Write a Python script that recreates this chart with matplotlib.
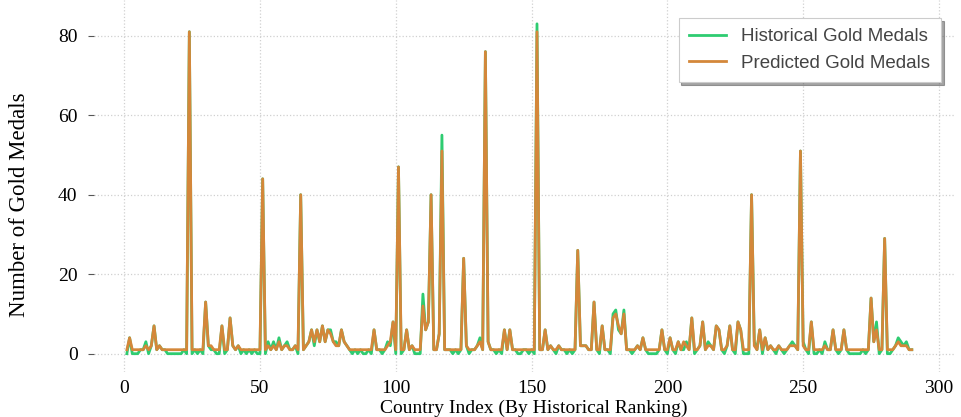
import matplotlib
matplotlib.use("Agg")
import matplotlib.pyplot as plt
import numpy as np

# Gold medal counts per country, ordered by historical ranking
historical_gold = [
    0, 4, 0, 0, 0, 1, 1, 3, 0, 2, 7, 1, 2, 1, 1, 0, 0, 0, 0, 0,
    0, 1, 0, 81, 0, 1, 0, 1, 0, 13, 2, 1, 1, 0, 0, 7, 0, 1, 9, 2,
    1, 2, 0, 1, 0, 1, 0, 1, 0, 0, 44, 0, 3, 1, 3, 1, 4, 1, 2, 3,
    1, 1, 2, 0, 40, 1, 2, 3, 6, 2, 6, 3, 7, 3, 6, 6, 3, 3, 2, 6,
    3, 2, 1, 0, 1, 0, 1, 0, 0, 1, 0, 6, 1, 1, 0, 1, 3, 2, 8, 0, 47,
    0, 1, 6, 1, 2, 0, 0, 0, 15, 6, 8, 40, 1, 1, 5, 55, 1, 1, 1, 0,
    1, 0, 1, 24, 2, 0, 1, 1, 2, 4, 1, 76, 3, 1, 1, 0, 1, 0, 6, 1,
    6, 1, 1, 0, 0, 1, 1, 0, 1, 0, 83, 1, 1, 6, 1, 2, 1, 0, 2, 1, 1,
    0, 1, 0, 1, 26, 2, 2, 2, 1, 1, 13, 1, 0, 7, 1, 1, 0, 10, 11, 6,
    5, 11, 1, 1, 0, 1, 2, 1, 4, 1, 0, 0, 0, 0, 1, 6, 1, 0, 4, 1, 0,
    3, 1, 1, 3, 1, 9, 0, 1, 2, 8, 1, 3, 2, 1, 7, 6, 1, 0, 2, 7,
    1, 0, 8, 6, 0, 0, 0, 40, 3, 1, 6, 0, 4, 1, 2, 1, 0, 2, 1, 0,
    1, 2, 3, 2, 1, 51, 3, 1, 0, 8, 0, 0, 1, 0, 3, 1, 1, 6, 1, 0,
    1, 6, 1, 0, 0, 0, 0, 0, 1, 0, 1, 14, 3, 8, 0, 1, 29, 0, 0, 1,
    2, 4, 3, 2, 3, 1, 1,
]

predicted_gold = [
    1, 4, 1, 1, 1, 1, 1, 2, 1, 2, 7, 1, 2, 1, 1, 1, 1, 1, 1, 1,
    1, 1, 1, 81, 1, 1, 1, 1, 1, 13, 2, 2, 1, 1, 1, 7, 1, 1, 9, 2,
    1, 2, 1, 1, 1, 1, 1, 1, 1, 1, 44, 1, 2, 1, 2, 1, 3, 1, 2, 2,
    1, 1, 2, 1, 40, 1, 2, 3, 6, 3, 6, 3, 7, 3, 6, 5, 3, 2, 2, 6,
    3, 2, 1, 1, 1, 1, 1, 1, 1, 1, 1, 6, 1, 1, 1, 1, 2, 3, 8, 1, 47,
    1, 1, 6, 1, 2, 1, 1, 1, 12, 6, 8, 40, 1, 1, 5, 51, 1, 1, 1, 1,
    1, 1, 1, 24, 2, 1, 1, 1, 2, 3, 1, 76, 3, 1, 1, 1, 1, 1, 6, 1,
    6, 1, 1, 1, 1, 1, 1, 1, 1, 1, 81, 1, 1, 6, 1, 2, 1, 1, 2, 1, 1,
    1, 1, 1, 1, 26, 2, 2, 2, 1, 1, 13, 1, 1, 7, 1, 1, 1, 9, 10, 7,
    5, 10, 1, 1, 1, 1, 2, 1, 4, 1, 1, 1, 1, 1, 1, 6, 1, 1, 4, 1, 1,
    3, 1, 3, 2, 1, 9, 1, 1, 2, 8, 1, 2, 2, 1, 7, 6, 1, 1, 2, 7,
    1, 1, 8, 6, 1, 1, 1, 40, 2, 1, 6, 1, 4, 1, 2, 1, 1, 2, 1, 1,
    1, 2, 2, 2, 1, 51, 2, 1, 1, 8, 1, 1, 1, 1, 2, 1, 1, 6, 1, 1,
    1, 6, 1, 1, 1, 1, 1, 1, 1, 1, 1, 14, 3, 6, 1, 1, 29, 1, 1, 1,
    2, 3, 2, 2, 2, 1, 1,
]

# Countries are numbered from 1 in ranking order
country_index = np.arange(1, len(historical_gold) + 1)
x_ticks = [0, 50, 100, 150, 200, 250, 300]
y_ticks = [0, 20, 40, 60, 80]

serif = ["Liberation Serif", "DejaVu Serif"]

fig = plt.figure(figsize=(9.62, 4.17), dpi=100)
ax = fig.add_axes([0.098, 0.108, 0.895, 0.892])

ax.plot(country_index, historical_gold, color="#2ecc71", linewidth=2.0,
        label="Historical Gold Medals")
ax.plot(country_index, predicted_gold, color="#d4873a", linewidth=2.0,
        label="Predicted Gold Medals")

ax.set_xlim(-11, 306)
ax.set_ylim(-4.6, 89)
ax.set_xticks(x_ticks)
ax.set_yticks(y_ticks)

ax.grid(True, linestyle=":", color="#d0d0d0", linewidth=0.9)
ax.set_axisbelow(True)
for spine in ax.spines.values():
    spine.set_visible(False)

ax.tick_params(axis="y", length=4, color="#555555", labelsize=14, pad=8)
ax.tick_params(axis="x", length=0, labelsize=14, pad=6)
for lbl in ax.get_xticklabels() + ax.get_yticklabels():
    lbl.set_fontfamily(serif)

ax.set_xlabel("Country Index (By Historical Ranking)", fontsize=14,
              family=serif)
ax.xaxis.set_label_coords(0.511, -0.074)
ax.set_ylabel("Number of Gold Medals", fontsize=16.5, family=serif)
ax.yaxis.set_label_coords(-0.075, 0.45)

leg = ax.legend(loc="upper right", frameon=True, shadow=True,
                fancybox=False, borderpad=0.55, handlelength=2.0,
                labelspacing=0.5,
                bbox_to_anchor=(0.994, 0.977),
                prop={"family": ["Liberation Sans"], "size": 13.5})
leg.get_frame().set_edgecolor("#cccccc")
leg.get_frame().set_linewidth(0.8)
for t in leg.get_texts():
    t.set_color("#444444")

fig.savefig("out.png", dpi=100)
